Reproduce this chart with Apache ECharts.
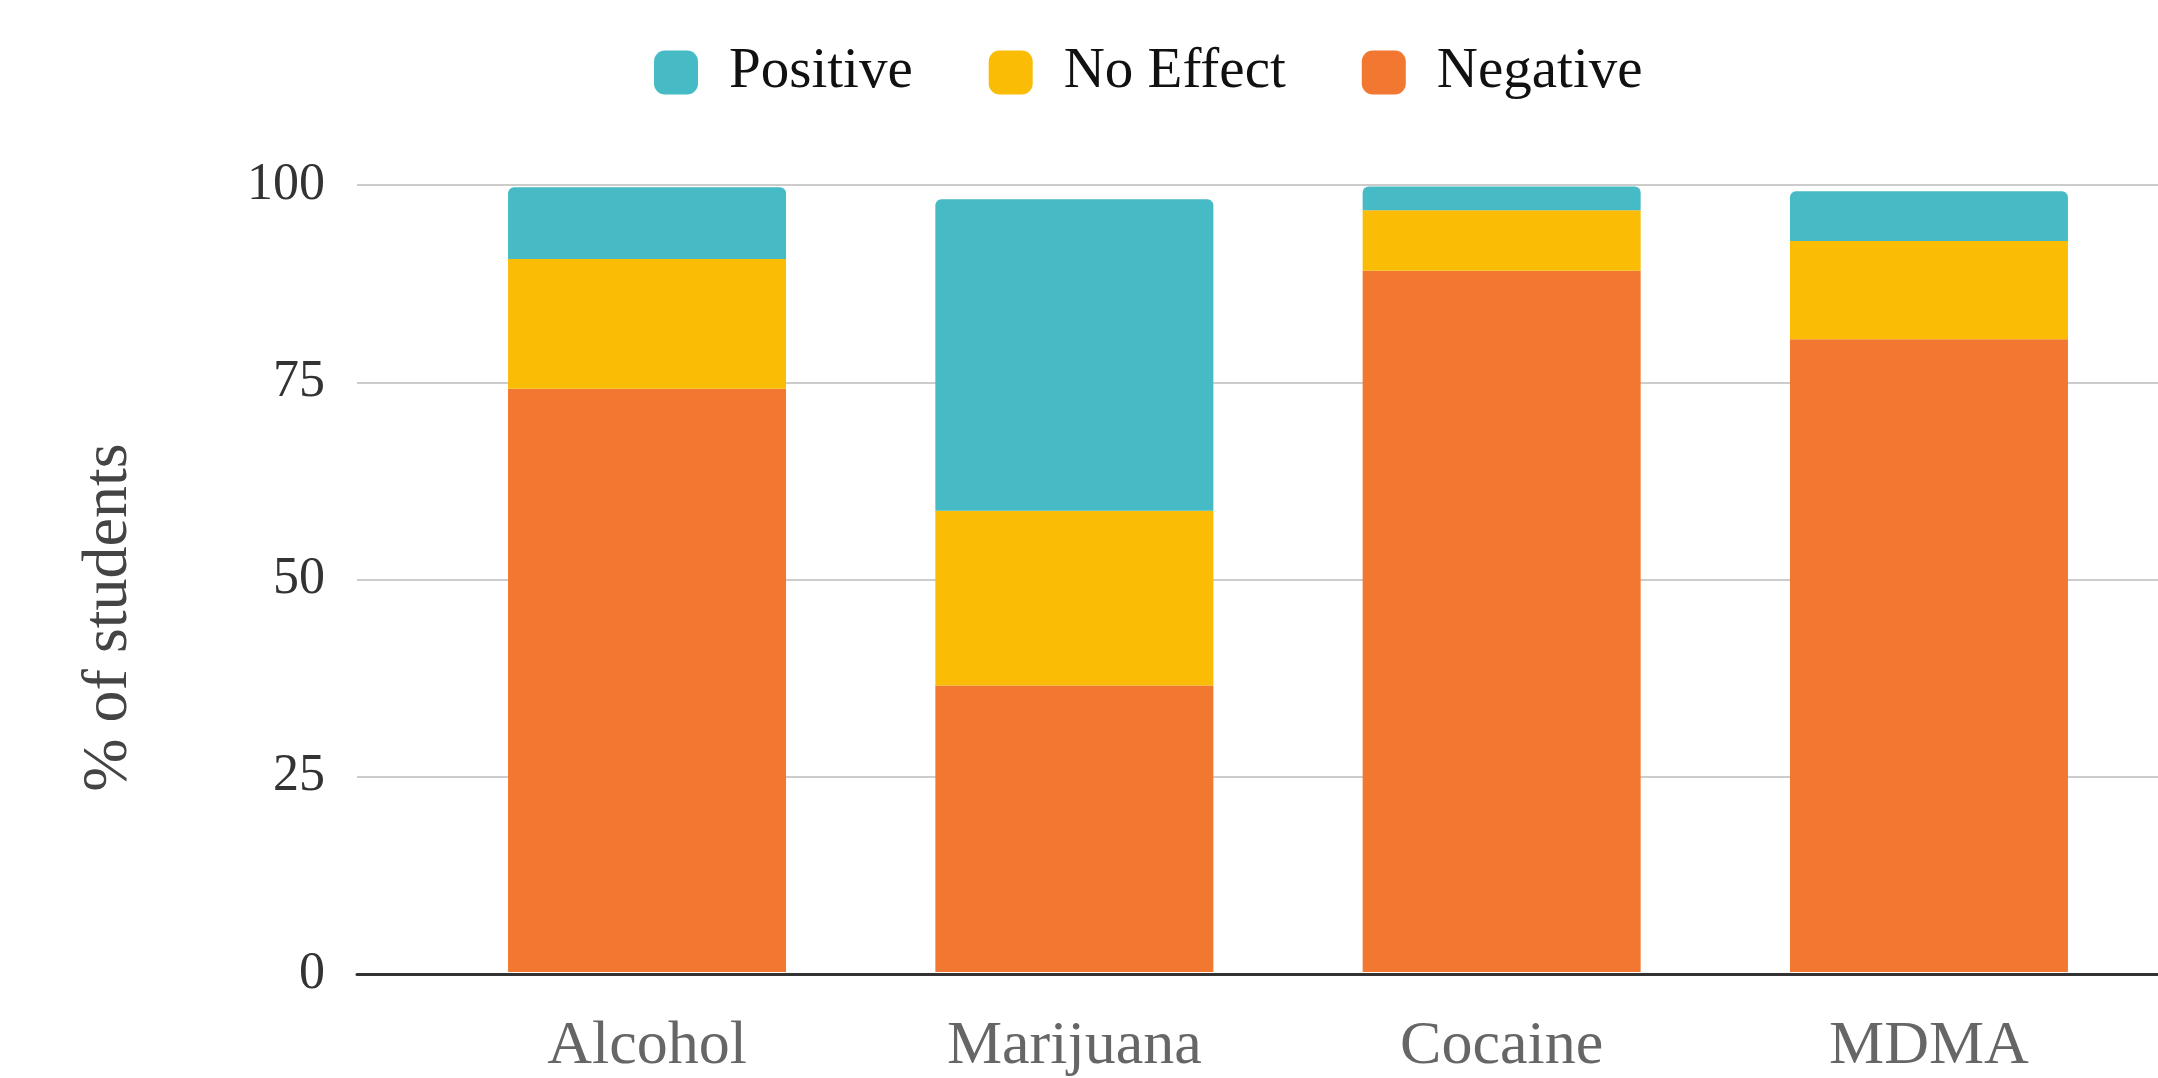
<!DOCTYPE html>
<html>
<head>
<meta charset="utf-8">
<title>Perceived effect by substance</title>
<script src="https://cdn.jsdelivr.net/npm/echarts@6/dist/echarts.min.js"></script>
<style>
  html, body { margin: 0; padding: 0; background: #ffffff; }
  #chart { width: 2158px; height: 1078px; }
</style>
</head>
<body>
<div id="chart"></div>
<script>
// Substances along the x axis
const categories = ['Alcohol', 'Marijuana', 'Cocaine', 'MDMA'];

// Share of students (%) per reported effect, stacked bottom to top
const negative = [74.1, 36.4, 89.1, 80.4];
const noEffect = [16.5, 22.2, 7.7, 12.5];
const positive = [9.1, 39.6, 3.0, 6.3];

// Value-axis ticks
const yTicks = [0, 25, 50, 75, 100];

const seriesNames = ['Positive', 'No Effect', 'Negative'];
const colors = {
  'Positive': '#46BBC6',
  'No Effect': '#FABC05',
  'Negative': '#F27730'
};

const serif = '"Liberation Serif", "DejaVu Serif", serif';

const chart = echarts.init(document.getElementById('chart'), null, { renderer: 'canvas' });

const plotTop = 185;
const plotBottom = 104;

chart.setOption({
  backgroundColor: '#ffffff',
  animation: false,
  legend: {
    data: seriesNames,
    top: 39,
    left: 649,
    itemWidth: 44,
    itemHeight: 44,
    itemGap: 76,
    icon: 'roundRect',
    textStyle: {
      fontFamily: serif,
      fontSize: 57,
      color: '#111111',
      padding: [0, 0, 0, 26]
    }
  },
  // grid 0: the frame (gridlines, baseline, value labels) spanning the full width;
  // grid 1: the bar band, inset so the categories sit inside the frame
  grid: [
    { left: 357, right: 0, top: plotTop, bottom: plotBottom },
    { left: 433.4, right: 15.4, top: plotTop, bottom: plotBottom }
  ],
  xAxis: [
    {
      gridIndex: 0,
      type: 'value',
      min: 0,
      max: 1,
      z: 5,
      splitLine: { show: false },
      axisTick: { show: false },
      axisLabel: { show: false },
      axisLine: { show: true, lineStyle: { color: '#333333', width: 3 } }
    },
    {
      gridIndex: 1,
      type: 'category',
      data: categories,
      axisLine: { show: false },
      axisTick: { show: false },
      axisLabel: {
        fontFamily: serif,
        fontSize: 62,
        color: '#666666',
        margin: 44
      }
    }
  ],
  yAxis: [
    {
      gridIndex: 0,
      type: 'value',
      min: yTicks[0],
      max: yTicks[yTicks.length - 1],
      interval: 25,
      name: '% of students',
      nameLocation: 'middle',
      nameGap: 216,
      nameRotate: 90,
      nameTextStyle: {
        fontFamily: serif,
        fontSize: 64,
        color: '#444444',
        padding: [0, 76, 0, 0]
      },
      axisLine: { show: false },
      axisTick: { show: false },
      splitLine: { show: true, lineStyle: { color: '#cccccc', width: 2 } },
      axisLabel: {
        fontFamily: serif,
        fontSize: 52,
        color: '#333333',
        margin: 32
      }
    },
    {
      gridIndex: 1,
      type: 'value',
      min: yTicks[0],
      max: yTicks[yTicks.length - 1],
      show: false
    }
  ],
  series: [
    {
      name: 'Negative',
      type: 'bar',
      stack: 'effect',
      xAxisIndex: 1,
      yAxisIndex: 1,
      barWidth: 278,
      data: negative,
      itemStyle: { color: colors['Negative'] }
    },
    {
      name: 'No Effect',
      type: 'bar',
      stack: 'effect',
      xAxisIndex: 1,
      yAxisIndex: 1,
      barWidth: 278,
      data: noEffect,
      itemStyle: { color: colors['No Effect'] }
    },
    {
      name: 'Positive',
      type: 'bar',
      stack: 'effect',
      xAxisIndex: 1,
      yAxisIndex: 1,
      barWidth: 278,
      data: positive,
      itemStyle: { color: colors['Positive'], borderRadius: [6, 6, 0, 0] }
    }
  ]
});
</script>
</body>
</html>
